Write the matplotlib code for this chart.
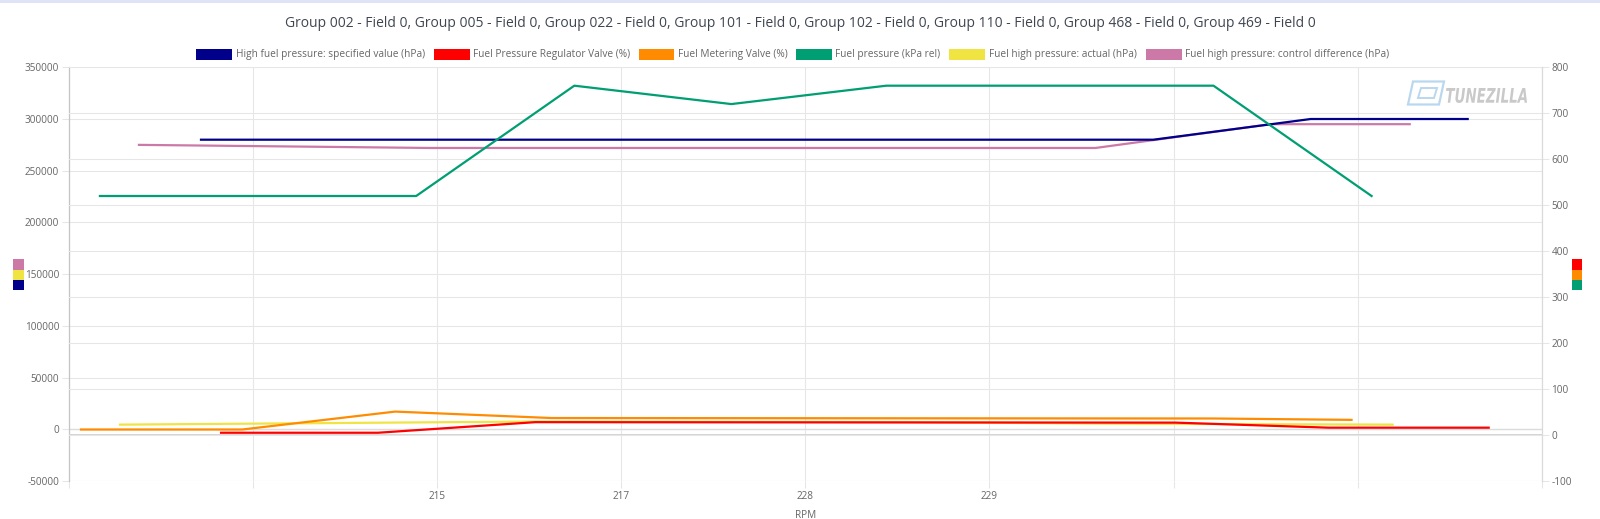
import matplotlib
matplotlib.use('Agg')
import matplotlib.pyplot as plt
from matplotlib.patches import Rectangle, PathPatch, Polygon
from matplotlib.textpath import TextPath
from matplotlib.font_manager import FontProperties
from matplotlib.transforms import Affine2D

W, H = 1600, 519
plt.rcParams['font.family'] = ['Open Sans', 'DejaVu Sans']

# ---------------- data ----------------
title = ("Group 002 - Field 0, Group 005 - Field 0, Group 022 - Field 0, Group 101 - Field 0, "
         "Group 102 - Field 0, Group 110 - Field 0, Group 468 - Field 0, Group 469 - Field 0")

x_ticks = [0, 1, 2, 3, 4, 5, 6, 7, 8]
x_labels = ['', '', '215', '217', '228', '229', '', '', '']
x_title = 'RPM'

left_ticks = [-50000, 0, 50000, 100000, 150000, 200000, 250000, 300000, 350000]
right_ticks = [-100, 0, 100, 200, 300, 400, 500, 600, 700, 800]

names = [
    'High fuel pressure: specified value (hPa)',
    'Fuel Pressure Regulator Valve (%)',
    'Fuel Metering Valve (%)',
    'Fuel pressure (kPa rel)',
    'Fuel high pressure: actual (hPa)',
    'Fuel high pressure: control difference (hPa)',
]
colors = ['#00008b', '#ff0000', '#ff8c00', '#009e73', '#f0e442', '#cc79a7']

# left axis (hPa)
hp_spec_x = [0.717, 5.891, 6.745, 7.598]
hp_spec_y = [280000, 280000, 300000, 300000]
hp_act_x = [0.277, 2.533, 4.516, 5.603, 7.190]
hp_act_y = [4500, 7500, 7000, 5500, 4500]
hp_diff_x = [0.380, 1.962, 5.576, 6.527, 7.283]
hp_diff_y = [275000, 272000, 272000, 295000, 295000]

# right axis
reg_x = [0.826, 1.679, 2.533, 6.011, 6.842, 7.712]
reg_y = [5, 5, 28, 27, 16, 16]
met_x = [0.065, 0.940, 1.772, 2.620, 6.217, 6.967]
met_y = [12, 12, 51, 37, 36, 33]
fp_x = [0.168, 1.886, 2.745, 3.598, 4.440, 6.217, 7.076]
fp_y = [520, 520, 760, 720, 760, 760, 520]

# ---------------- figure ----------------
fig = plt.figure(figsize=(W / 100, H / 100), dpi=100)
fig.patch.set_facecolor('white')

def fx(px):
    return px / W

def fy(py):
    return 1 - py / H

L, R, T, B = 69, 1541.7, 67.3, 481
ax = fig.add_axes([fx(L), fy(B), (R - L) / W, (B - T) / H])
ax2 = ax.twinx()

GRID = '#e6e6e6'
TXT = '#666666'
lw = 1.6

# left series
ax.plot(hp_diff_x, hp_diff_y, color=colors[5], lw=lw, zorder=3, solid_joinstyle='round')
ax.plot(hp_act_x, hp_act_y, color=colors[4], lw=lw, zorder=4, solid_joinstyle='round')
ax.plot(hp_spec_x, hp_spec_y, color=colors[0], lw=lw, zorder=5, solid_joinstyle='round')
# right series
ax2.plot(fp_x, fp_y, color=colors[3], lw=lw, zorder=3, solid_joinstyle='round')
ax2.plot(met_x, met_y, color=colors[2], lw=lw, zorder=4, solid_joinstyle='round')
ax2.plot(reg_x, reg_y, color=colors[1], lw=lw, zorder=5, solid_joinstyle='round')

ax.set_xlim(0, 8)
ax.set_ylim(-50000, 350000)
ax2.set_ylim(-100, 800)

ax.set_xticks(x_ticks)
ax.set_xticklabels(x_labels)
ax.set_yticks(left_ticks)
ax.set_yticklabels([str(v) for v in left_ticks])
ax2.set_yticks(right_ticks)
ax2.set_yticklabels([str(v) for v in right_ticks])

ax.grid(True, axis='both', color=GRID, lw=0.75, zorder=0)
ax2.grid(True, axis='y', color=GRID, lw=0.75)
ax2.axhline(0, color='#d2d2d2', lw=1.3, zorder=1)
ax.axhline(0, color='#dcdcdc', lw=1.0, zorder=1)
ax.set_axisbelow(True)

ax.tick_params(axis='both', length=5, width=0.75, color=GRID, labelsize=7.2,
               labelcolor=TXT, pad=2)
ax2.tick_params(axis='y', length=5, width=0.75, color=GRID, labelsize=7.2,
                labelcolor=TXT, pad=2)

for a in (ax, ax2):
    a.spines['top'].set_visible(False)
    a.spines['bottom'].set_visible(False)
ax.spines['right'].set_visible(False)
ax2.spines['left'].set_visible(False)
ax.spines['left'].set_color('#c4c4c4')
ax.spines['left'].set_linewidth(0.9)
ax2.spines['right'].set_color('#dadada')
ax2.spines['right'].set_linewidth(0.9)

ax.set_xlabel(x_title, fontsize=7.2, color=TXT, labelpad=6)

# title
fig.text(0.5, fy(23.5), title, ha='center', va='center', fontsize=10,
         color='#3f4651')

# legend (manual, chart.js style)
box_x = [196.4, 434.0, 638.8, 796.0, 949.5, 1146.0]
box_w = 35.6
for bx, c, n in zip(box_x, colors, names):
    fig.patches.append(Rectangle((fx(bx), fy(60.3)), box_w / W, 11.0 / H,
                                 transform=fig.transFigure, facecolor=c,
                                 edgecolor='none'))
    fig.text(fx(bx + box_w + 3.5), fy(55.0), n, ha='left', va='center',
             fontsize=7.3, color=TXT)

# axis colour indicators
left_ind = [colors[5], colors[4], colors[0]]
right_ind = [colors[1], colors[2], colors[3]]
for i, c in enumerate(left_ind):
    fig.patches.append(Rectangle((fx(13.3), fy(259.3 + 10.25 * (i + 1))), 10.7 / W, 10.25 / H,
                                 transform=fig.transFigure, facecolor=c, edgecolor='none'))
for i, c in enumerate(right_ind):
    fig.patches.append(Rectangle((fx(1571.7), fy(259.3 + 10.25 * (i + 1))), 10.7 / W, 10.25 / H,
                                 transform=fig.transFigure, facecolor=c, edgecolor='none'))

# top band
fig.patches.append(Rectangle((0, fy(3)), 1, 3 / H, transform=fig.transFigure,
                             facecolor='#dfe3f6', edgecolor='none'))

# watermark logo
logo_c = '#b9d8ef'
outer = [(1413, 81.5), (1444, 81.5), (1439, 104.5), (1408, 104.5)]
fig.patches.append(Polygon([(fx(a), fy(b)) for a, b in outer], closed=True,
                           transform=fig.transFigure, facecolor='none',
                           edgecolor=logo_c, lw=1.6))
inner = [(1421, 88), (1437, 88), (1434, 98), (1418, 98)]
fig.patches.append(Polygon([(fx(a), fy(b)) for a, b in inner], closed=True,
                           transform=fig.transFigure, facecolor='none',
                           edgecolor=logo_c, lw=1.4))

tp = TextPath((0, 0), 'TUNEZILLA', size=20,
              prop=FontProperties(family='DejaVu Sans', weight='bold', style='italic'))
ext = tp.get_extents()
tx0, tx1, ty0, ty1 = 1446, 1527, 88, 103
sx = (tx1 - tx0) / ext.width
sy = (ty1 - ty0) / ext.height
tr = (Affine2D().translate(-ext.x0, -ext.y0).scale(sx, sy)
      .translate(tx0, H - ty1).scale(1 / W, 1 / H))
fig.patches.append(PathPatch(tr.transform_path(tp), transform=fig.transFigure,
                             facecolor='#c9c9c9', edgecolor='none'))

fig.savefig('out.png', dpi=100, facecolor='white')
